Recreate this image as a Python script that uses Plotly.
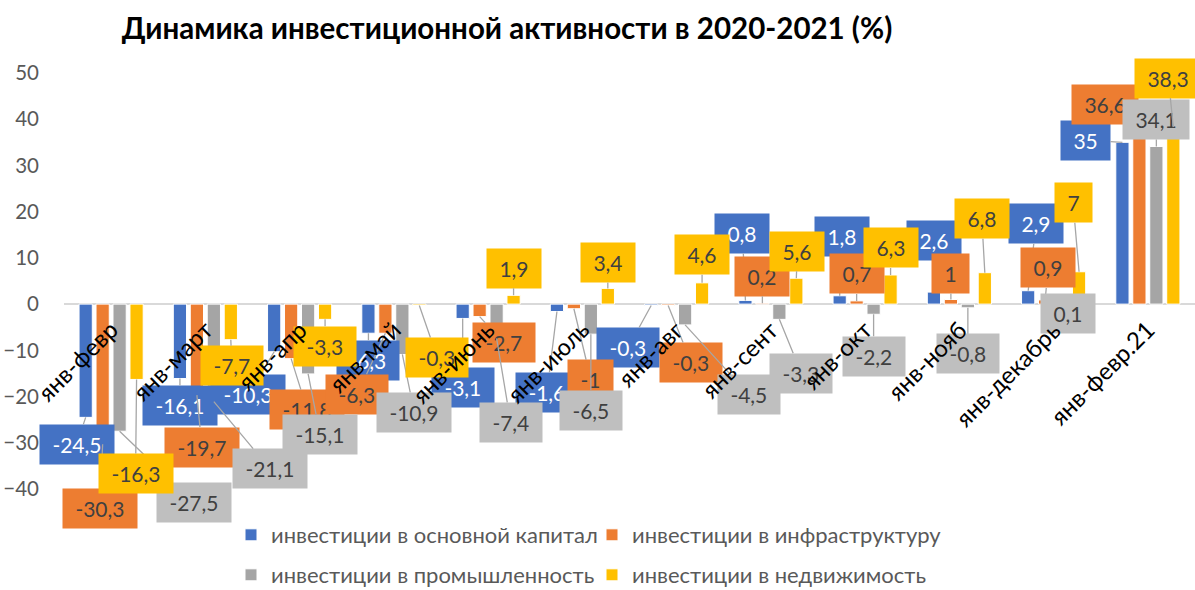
import plotly.graph_objects as go

# ---------------- data ----------------
categories = ["янв-февр", "янв-март", "янв-апр", "янв-май", "янв-июнь", "янв-июль",
              "янв-авг", "янв-сент", "янв-окт", "янв-нояб", "янв-декабрь", "янв-февр.21"]

series_names = ["инвестиции в основной капитал", "инвестиции в инфраструктуру",
                "инвестиции в промышленность", "инвестиции в недвижимость"]

fixed_capital = [-24.5, -16.1, -10.3, -6.3, -3.1, -1.6, -0.3, 0.8, 1.8, 2.6, 2.9, 35]
infrastructure = [-30.3, -19.7, -11.8, -6.3, -2.7, -1, -0.3, 0.2, 0.7, 1, 0.9, 36.6]
industry = [-27.5, -21.1, -15.1, -10.9, -7.4, -6.5, -4.5, -3.3, -2.2, -0.8, 0.1, 34.1]
real_estate = [-16.3, -7.7, -3.3, -0.3, 1.9, 3.4, 4.6, 5.6, 6.3, 6.8, 7, 38.3]

y_ticks = [-40, -30, -20, -10, 0, 10, 20, 30, 40, 50]

# ---------------- styling ----------------
bar_colors = ["#4472C4", "#ED7D31", "#A5A5A5", "#FFC000"]
label_bg = ["#4472C4", "#ED7D31", "#BFBFBF", "#FFC000"]
label_fg = ["#FFFFFF", "#404040", "#404040", "#404040"]
FONT = "Lato, 'Noto Sans', sans-serif"

# callout offsets (pixels) of each data label from its bar end, per series
callout_dx = [
    [-9, 0, -26, 0, 0, -10, -23, -3, 2, 0, 8, -37],
    [-3, 5, 16, -28, 24, 17, 23, 0, 0, 0, 3, -34],
    [74, 56, 12, 12, 14, 0, 64, 22, 0, 0, 6, 0],
    [-1, 1, 0, 18, 0, 0, 0, 1, 0, -3, -6, -5],
]
callout_dy = [
    [27, 27, 43, 27, 69, 81, 42, -67, -59, -52, -67, -2],
    [64, 52, 51, 61, 26, 71, 57, -27, -27, -26, -32, -30],
    [71, 67, 61, 58, 84, 76, 70, 54, 42, 46, 10, -27],
    [94, 26, 27, 52, -27, -26, -28, -27, -27, -54, -69, -49],
]

all_series = [fixed_capital, infrastructure, industry, real_estate]
bar_offsets = [-0.27, -0.09, 0.09, 0.27]


def fmt(v):
    return f"{v:g}".replace(".", ",")


fig = go.Figure()
for s, (name, vals) in enumerate(zip(series_names, all_series)):
    fig.add_trace(go.Bar(
        x=categories, y=vals, name=name,
        marker=dict(color=bar_colors[s], line=dict(color="white", width=1)),
        legend="legend" if s < 2 else "legend2",
        hoverinfo="skip",
    ))

annotations = []
for s, vals in enumerate(all_series):
    for i, v in enumerate(vals):
        annotations.append(dict(
            x=i + bar_offsets[s], y=v, xref="x", yref="y",
            text="\u00a0" + fmt(v) + "\u00a0",
            showarrow=True, arrowhead=0, arrowwidth=1.3, arrowcolor="#A6A6A6",
            standoff=0, ax=callout_dx[s][i], ay=callout_dy[s][i],
            bgcolor=label_bg[s], borderpad=7,
            font=dict(family=FONT, size=21, color=label_fg[s]),
        ))

# category labels drawn on top of the data labels (as in the original)
for i, c in enumerate(categories):
    annotations.append(dict(
        x=i, y=0, xref="x", yref="y", text=c, showarrow=False,
        textangle=-45, xanchor="right", yanchor="top", xshift=15, yshift=-8,
        font=dict(family=FONT, size=24, color="#000000"),
    ))

ymin, ymax = -40, 50
legend_common = dict(orientation="h", xref="container", x=231 / 1195, xanchor="left",
                     yref="container", yanchor="middle", entrywidth=316,
                     entrywidthmode="pixels",
                     font=dict(family=FONT, size=22, color="#595959"),
                     bgcolor="rgba(0,0,0,0)", traceorder="normal")
fig.update_layout(
    width=1195, height=590,
    margin=dict(l=64, r=0, t=73, b=101, autoexpand=False),
    paper_bgcolor="white", plot_bgcolor="white",
    barmode="group", bargap=0.28, bargroupgap=0.22,
    font=dict(family=FONT, size=20.5, color="#595959"),
    title=dict(text="<b>Динамика инвестиционной активности в 2020-2021 (%)</b>",
               x=507 / 1195, xref="container", xanchor="center",
               y=1 - 29 / 590, yref="container", yanchor="middle",
               font=dict(family=FONT, size=29.5, color="#000000")),
    xaxis=dict(type="category", anchor="free", position=(0 - ymin) / (ymax - ymin),
               range=[-0.5, len(categories) - 0.5], autorange=False, automargin=False,
               showline=False, showgrid=False, zeroline=False, ticks="",
               showticklabels=False),
    yaxis=dict(range=[ymin, ymax], autorange=False, tickvals=y_ticks, showgrid=False,
               automargin=False,
               zeroline=True, zerolinecolor="#D9D9D9", zerolinewidth=2,
               showline=False, ticks="", ticklabelstandoff=24,
               tickfont=dict(family=FONT, size=20.5, color="#595959")),
    legend=dict(legend_common, y=(590 - 535) / 590),
    legend2=dict(legend_common, y=(590 - 575) / 590),
    annotations=annotations,
    showlegend=True,
)

fig.write_html("out.html", config={"displayModeBar": False},
               post_script="document.body.style.margin='0';document.body.style.overflow='hidden';")
